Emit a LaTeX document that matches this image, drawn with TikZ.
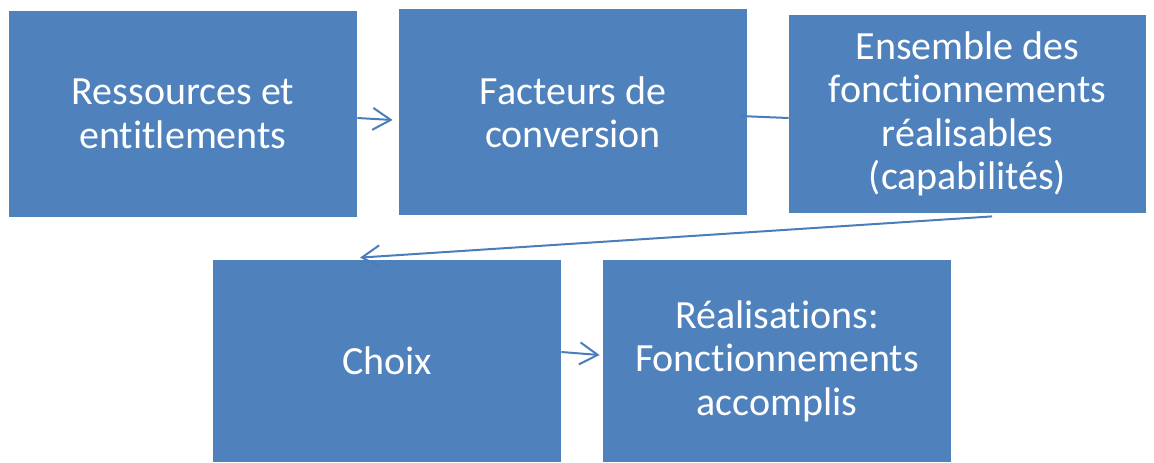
\documentclass[tikz,border=0pt]{standalone}
\usepackage{fontspec}
\setmainfont[Ligatures={NoCommon}]{Carlito}
\usetikzlibrary{arrows.meta,calc}
\definecolor{boxblue}{HTML}{4F81BD}
\definecolor{linkblue}{HTML}{4A7EBB}
\begin{document}
\begin{tikzpicture}[x=0.5pt,y=-0.5pt,
  stage/.style={fill=boxblue, draw=none, text=white, align=center,
    inner sep=0pt, font=\fontsize{20pt}{21.7pt}\selectfont},
  link/.style={draw=linkblue, line width=1pt,
    -{Straight Barb[length=9pt,width=11pt,line width=1pt]}},
  plainlink/.style={draw=linkblue, line width=1pt}]
\useasboundingbox (0,0) rectangle (1154,462);
\node[stage, minimum width=174pt, minimum height=103pt] (b1) at (183,114)
  {Ressources et\\entitlements};
\node[stage, minimum width=174pt, minimum height=103pt] (b2) at (573,112)
  {Facteurs de\\conversion};
\node[stage, minimum width=178.5pt, minimum height=99pt] (b3) at (967.5,114)
  {Ensemble des\\fonctionnements\\réalisables\\(capabilités)};
\node[stage, minimum width=174pt, minimum height=101pt] (b4) at (387,361)
  {Choix};
\node[stage, minimum width=174pt, minimum height=101pt] (b5) at (777,361)
  {Réalisations:\\Fonctionnements\\accomplis};
\draw[link] ($(b1.east)+(0,4)$) -- ($(b2.west)+(-6,8)$);
\draw[plainlink] ($(b2.east)+(-8,4)$) -- ($(b3.west)+(0,4)$);
\draw[link] ($(b3.south)+(24.5,3)$) -- ($(b4.north)+(-27,-2)$);
\draw[link] ($(b4.east)+(0,-9)$) -- ($(b5.west)+(-3,-6)$);
\end{tikzpicture}
\end{document}
